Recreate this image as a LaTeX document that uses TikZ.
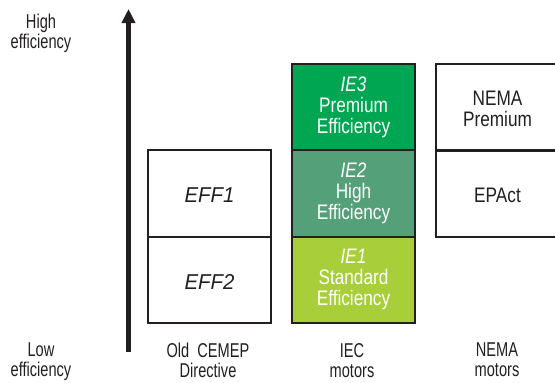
\documentclass[tikz,border=0pt]{standalone}
\usepackage{fontspec}
\setmainfont{Liberation Sans}
\newfontfamily\lblfont{Liberation Sans}[FakeStretch=0.73]
\newfontfamily\boxfont{Liberation Sans}[FakeStretch=0.82]
\newfontfamily\efffont{Liberation Sans}[FakeStretch=0.95]
\usetikzlibrary{arrows.meta}
\definecolor{ieIII}{HTML}{00A651}
\definecolor{ieII}{HTML}{53A079}
\definecolor{ieI}{HTML}{A8CF3A}
\definecolor{txt}{HTML}{231F20}
\begin{document}
\begin{tikzpicture}[x=1pt,y=-1pt,
  lvl/.style={draw=txt,line width=2pt,minimum width=123pt,minimum height=86.5pt,inner sep=0pt},
  boxtxt/.style={align=center,text=txt,inner sep=0pt,font=\boxfont\fontsize{21}{21}\selectfont},
  efftxt/.style={align=center,text=txt,inner sep=0pt,font=\efffont\fontsize{21.5}{22}\selectfont\itshape},
  ietxt/.style={boxtxt,text=white},
  axlbl/.style={align=center,text=txt,inner sep=0pt,anchor=north,font=\lblfont\fontsize{20}{20}\selectfont}]
\useasboundingbox (0,0) rectangle (555,383);
% arrow
\coordinate (abot) at (128.5,352);
\coordinate (atop) at (128.5,9);
\draw[line width=4.5pt,txt,-{Triangle[width=13pt,length=14pt]}] (abot) -- (atop);
% old CEMEP
\node[lvl,anchor=north west] (eff1) at (147,149) {};
\node[lvl,anchor=north west] (eff2) at (147,235.5) {};
\node[efftxt] (eff1t) at ([yshift=-2.3pt]eff1.center) {EFF1};
\node[efftxt] (eff2t) at ([yshift=-2.3pt]eff2.center) {EFF2};
% IEC
\node[lvl,fill=ieIII,anchor=north west] (ie3) at (291,63) {};
\node[lvl,fill=ieII,anchor=north west] (ie2) at (291,149) {};
\node[lvl,fill=ieI,anchor=north west] (ie1) at (291,235.5) {};
\node[ietxt] (ie3t) at (ie3.center) {\itshape IE3\\Premium\\Efficiency};
\node[ietxt] (ie2t) at (ie2.center) {\itshape IE2\\High\\Efficiency};
\node[ietxt] (ie1t) at (ie1.center) {\itshape IE1\\Standard\\Efficiency};
% NEMA
\node[lvl,minimum width=125pt,anchor=north west] (nemap) at (435,63) {};
\node[lvl,minimum width=125pt,anchor=north west] (epact) at (435,149) {};
\node[boxtxt] (nemapt) at ([xshift=-1pt,yshift=-2pt]nemap.center) {NEMA\\Premium};
\node[boxtxt] (epactt) at ([xshift=-1pt,yshift=-2pt]epact.center) {EPAct};
% labels
\node[axlbl] (high) at (41,13.5) {High\\efficiency};
\node[axlbl] (low) at (41,343) {Low\\efficiency};
\node[axlbl] (old) at (208,343) {Old\ \ CEMEP\\Directive};
\node[axlbl] (iec) at (352,343) {IEC\\motors};
\node[axlbl] (nema) at (497,343) {NEMA\\motors};
\end{tikzpicture}
\end{document}
